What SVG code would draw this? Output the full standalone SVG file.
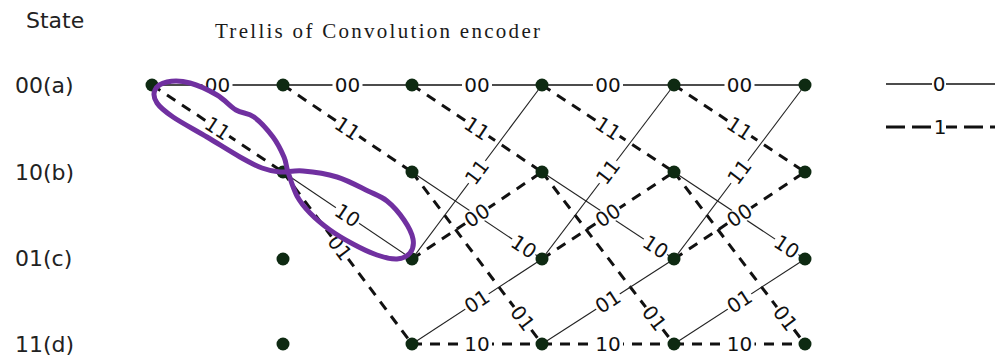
<svg xmlns="http://www.w3.org/2000/svg" width="995" height="358" viewBox="0 0 995 358">
<style>
.bg{fill:#fff}
.st{font-family:"DejaVu Sans",sans-serif;font-size:22px;fill:#222}
.ttl{font-family:"Liberation Serif",serif;font-size:21px;fill:#1a1a1a}
.s0{stroke:#111;stroke-width:1.5;fill:none}
.sd{stroke:#222;stroke-width:1.1;fill:none}
.d1{stroke:#111;stroke-width:3;stroke-dasharray:10 8;fill:none}
.lg1{stroke:#111;stroke-width:3;stroke-dasharray:19 7;fill:none}
.lb{fill:#fff}
.el{font-family:"DejaVu Sans",sans-serif;font-size:20px;fill:#111;text-anchor:middle}
.dot{fill:#0e2a12}
.ann{fill:none;stroke:#7030a0;stroke-width:5;stroke-linejoin:round}
</style>
<rect class="bg" x="0" y="0" width="995" height="358"/>
<text class="st" x="26" y="28">State</text>
<text class="ttl" x="215" y="38" textLength="325" lengthAdjust="spacing">Trellis of  Convolution encoder</text>
<text class="st" x="15" y="93">00(a)</text>
<text class="st" x="15" y="180">10(b)</text>
<text class="st" x="15" y="266">01(c)</text>
<text class="st" x="15" y="352">11(d)</text>

<g id="connectors">
<!-- k=0 -->
<line class="s0" x1="152" y1="85" x2="283" y2="85"/>
<line class="d1" x1="152" y1="85" x2="283" y2="172"/>
<!-- k=1 -->
<line class="s0" x1="283" y1="85" x2="412" y2="85"/>
<line class="d1" x1="283" y1="85" x2="412" y2="172"/>
<line class="sd" x1="283" y1="172" x2="412" y2="259"/>
<line class="d1" x1="283" y1="172" x2="412" y2="344"/>
<!-- k=2 -->
<line class="s0" x1="412" y1="85" x2="542" y2="85"/>
<line class="d1" x1="412" y1="85" x2="542" y2="172"/>
<line class="sd" x1="412" y1="172" x2="542" y2="259"/>
<line class="d1" x1="412" y1="172" x2="542" y2="344"/>
<line class="sd" x1="412" y1="259" x2="542" y2="85"/>
<line class="d1" x1="412" y1="259" x2="542" y2="172"/>
<line class="sd" x1="412" y1="344" x2="542" y2="259"/>
<line class="d1" x1="412" y1="344" x2="542" y2="344"/>
<!-- k=3 -->
<line class="s0" x1="542" y1="85" x2="674" y2="85"/>
<line class="d1" x1="542" y1="85" x2="674" y2="172"/>
<line class="sd" x1="542" y1="172" x2="674" y2="259"/>
<line class="d1" x1="542" y1="172" x2="674" y2="344"/>
<line class="sd" x1="542" y1="259" x2="674" y2="85"/>
<line class="d1" x1="542" y1="259" x2="674" y2="172"/>
<line class="sd" x1="542" y1="344" x2="674" y2="259"/>
<line class="d1" x1="542" y1="344" x2="674" y2="344"/>
<!-- k=4 -->
<line class="s0" x1="674" y1="85" x2="805" y2="85"/>
<line class="d1" x1="674" y1="85" x2="805" y2="172"/>
<line class="sd" x1="674" y1="172" x2="805" y2="259"/>
<line class="d1" x1="674" y1="172" x2="805" y2="344"/>
<line class="sd" x1="674" y1="259" x2="805" y2="85"/>
<line class="d1" x1="674" y1="259" x2="805" y2="172"/>
<line class="sd" x1="674" y1="344" x2="805" y2="259"/>
<line class="d1" x1="674" y1="344" x2="805" y2="344"/>

<!-- labels k=0 -->
<g transform="translate(217.5,85)"><rect class="lb" x="-15" y="-9" width="30" height="18"/><text class="el" y="7">00</text></g>
<g transform="translate(217.5,128.5) rotate(33.6)"><rect class="lb" x="-14" y="-8.5" width="28" height="17"/><text class="el" y="7">11</text></g>
<!-- labels k=1 -->
<g transform="translate(347.5,85)"><rect class="lb" x="-15" y="-9" width="30" height="18"/><text class="el" y="7">00</text></g>
<g transform="translate(347.5,128.5) rotate(34)"><rect class="lb" x="-14" y="-8.5" width="28" height="17"/><text class="el" y="7">11</text></g>
<g transform="translate(347.5,215.5) rotate(34)"><rect class="lb" x="-14" y="-8.5" width="28" height="17"/><text class="el" y="7">10</text></g>
<g transform="translate(339.8,247.7) rotate(53.1)"><rect class="lb" x="-14" y="-8.5" width="28" height="17"/><text class="el" y="7">01</text></g>
<!-- labels k=2 -->
<g transform="translate(477,85)"><rect class="lb" x="-15" y="-9" width="30" height="18"/><text class="el" y="7">00</text></g>
<g transform="translate(477,128.5) rotate(33.8)"><rect class="lb" x="-14" y="-8.5" width="28" height="17"/><text class="el" y="7">11</text></g>
<g transform="translate(523.8,246.8) rotate(33.8)"><rect class="lb" x="-14" y="-8.5" width="28" height="17"/><text class="el" y="7">10</text></g>
<g transform="translate(522.5,318.2) rotate(52.9)"><rect class="lb" x="-14" y="-8.5" width="28" height="17"/><text class="el" y="7">01</text></g>
<g transform="translate(477,172) rotate(-53.2)"><rect class="lb" x="-14" y="-8.5" width="28" height="17"/><text class="el" y="7">11</text></g>
<g transform="translate(477,215.5) rotate(-33.8)"><rect class="lb" x="-14" y="-8.5" width="28" height="17"/><text class="el" y="7">00</text></g>
<g transform="translate(477,301.5) rotate(-33.2)"><rect class="lb" x="-14" y="-8.5" width="28" height="17"/><text class="el" y="7">01</text></g>
<g transform="translate(477,344)"><rect class="lb" x="-15" y="-9" width="30" height="18"/><text class="el" y="7">10</text></g>
<!-- labels k=3 -->
<g transform="translate(608,85)"><rect class="lb" x="-15" y="-9" width="30" height="18"/><text class="el" y="7">00</text></g>
<g transform="translate(608,128.5) rotate(33.4)"><rect class="lb" x="-14" y="-8.5" width="28" height="17"/><text class="el" y="7">11</text></g>
<g transform="translate(655.5,246.8) rotate(33.4)"><rect class="lb" x="-14" y="-8.5" width="28" height="17"/><text class="el" y="7">10</text></g>
<g transform="translate(654.2,318.2) rotate(52.5)"><rect class="lb" x="-14" y="-8.5" width="28" height="17"/><text class="el" y="7">01</text></g>
<g transform="translate(608,172) rotate(-52.8)"><rect class="lb" x="-14" y="-8.5" width="28" height="17"/><text class="el" y="7">11</text></g>
<g transform="translate(608,215.5) rotate(-33.4)"><rect class="lb" x="-14" y="-8.5" width="28" height="17"/><text class="el" y="7">00</text></g>
<g transform="translate(608,301.5) rotate(-32.8)"><rect class="lb" x="-14" y="-8.5" width="28" height="17"/><text class="el" y="7">01</text></g>
<g transform="translate(608,344)"><rect class="lb" x="-15" y="-9" width="30" height="18"/><text class="el" y="7">10</text></g>
<!-- labels k=4 -->
<g transform="translate(739.5,85)"><rect class="lb" x="-15" y="-9" width="30" height="18"/><text class="el" y="7">00</text></g>
<g transform="translate(739.5,128.5) rotate(33.6)"><rect class="lb" x="-14" y="-8.5" width="28" height="17"/><text class="el" y="7">11</text></g>
<g transform="translate(786.7,246.8) rotate(33.6)"><rect class="lb" x="-14" y="-8.5" width="28" height="17"/><text class="el" y="7">10</text></g>
<g transform="translate(785.4,318.2) rotate(52.7)"><rect class="lb" x="-14" y="-8.5" width="28" height="17"/><text class="el" y="7">01</text></g>
<g transform="translate(739.5,172) rotate(-53)"><rect class="lb" x="-14" y="-8.5" width="28" height="17"/><text class="el" y="7">11</text></g>
<g transform="translate(739.5,215.5) rotate(-33.6)"><rect class="lb" x="-14" y="-8.5" width="28" height="17"/><text class="el" y="7">00</text></g>
<g transform="translate(739.5,301.5) rotate(-33)"><rect class="lb" x="-14" y="-8.5" width="28" height="17"/><text class="el" y="7">01</text></g>
<g transform="translate(739.5,344)"><rect class="lb" x="-15" y="-9" width="30" height="18"/><text class="el" y="7">10</text></g>
</g>

<g id="legend">
<line class="s0" x1="886" y1="84" x2="995" y2="84"/>
<rect class="lb" x="932" y="74" width="14" height="20"/>
<text class="el" x="939" y="91">0</text>
<line class="lg1" x1="886" y1="127" x2="995" y2="127"/>
<rect class="lb" x="934" y="117" width="12" height="20"/>
<text class="el" x="940" y="134">1</text>
</g>

<g id="a0"><circle class="dot" cx="152" cy="85" r="6.5"/></g>
<g id="a1"><circle class="dot" cx="283" cy="85" r="6.5"/></g>
<g id="b1"><circle class="dot" cx="283" cy="172" r="6.5"/></g>
<g id="c1"><circle class="dot" cx="283" cy="259" r="6.5"/></g>
<g id="d1"><circle class="dot" cx="283" cy="344" r="6.5"/></g>
<g id="a2"><circle class="dot" cx="412" cy="85" r="6.5"/></g>
<g id="b2"><circle class="dot" cx="412" cy="172" r="6.5"/></g>
<g id="c2"><circle class="dot" cx="412" cy="259" r="6.5"/></g>
<g id="d2"><circle class="dot" cx="412" cy="344" r="6.5"/></g>
<g id="a3"><circle class="dot" cx="542" cy="85" r="6.5"/></g>
<g id="b3"><circle class="dot" cx="542" cy="172" r="6.5"/></g>
<g id="c3"><circle class="dot" cx="542" cy="259" r="6.5"/></g>
<g id="d3"><circle class="dot" cx="542" cy="344" r="6.5"/></g>
<g id="a4"><circle class="dot" cx="674" cy="85" r="6.5"/></g>
<g id="b4"><circle class="dot" cx="674" cy="172" r="6.5"/></g>
<g id="c4"><circle class="dot" cx="674" cy="259" r="6.5"/></g>
<g id="d4"><circle class="dot" cx="674" cy="344" r="6.5"/></g>
<g id="a5"><circle class="dot" cx="805" cy="85" r="6.5"/></g>
<g id="b5"><circle class="dot" cx="805" cy="172" r="6.5"/></g>
<g id="c5"><circle class="dot" cx="805" cy="259" r="6.5"/></g>
<g id="d5"><circle class="dot" cx="805" cy="344" r="6.5"/></g>

<path class="ann" d="M155,90 C156.7,86.5 161.2,83.2 167,82 C172.8,80.8 181.7,80.8 190,83 C198.3,85.2 209.3,90.5 217,95 C224.7,99.5 229.8,106.3 236,110 C242.2,113.7 247.8,112.5 254,117 C260.2,121.5 268,130.3 273,137 C278,143.7 281.5,151.2 284,157 C286.5,162.8 285.8,165.5 288,172 C290.2,178.5 293.3,189.2 297,196 C300.7,202.8 304.5,207.3 310,213 C315.5,218.7 322.8,224.8 330,230 C337.2,235.2 345.2,239.8 353,244 C360.8,248.2 369.7,252.5 377,255 C384.3,257.5 391.5,259.3 397,259 C402.5,258.7 407.3,256.3 410,253 C412.7,249.7 414,244.5 413,239 C412,233.5 408.3,226.3 404,220 C399.7,213.7 393,205.8 387,201 C381,196.2 376.3,195 368,191 C359.7,187 347.8,180.3 337,177 C326.2,173.7 312.5,171.8 303,171 C293.5,170.2 286.8,172.5 280,172 C273.2,171.5 268.7,170.5 262,168 C255.3,165.5 249.2,162.2 240,157 C230.8,151.8 218.2,143.7 207,137 C195.8,130.3 181.3,122.7 173,117 C164.7,111.3 160,107.5 157,103 C154,98.5 153.3,93.5 155,90 Z"/>
</svg>
